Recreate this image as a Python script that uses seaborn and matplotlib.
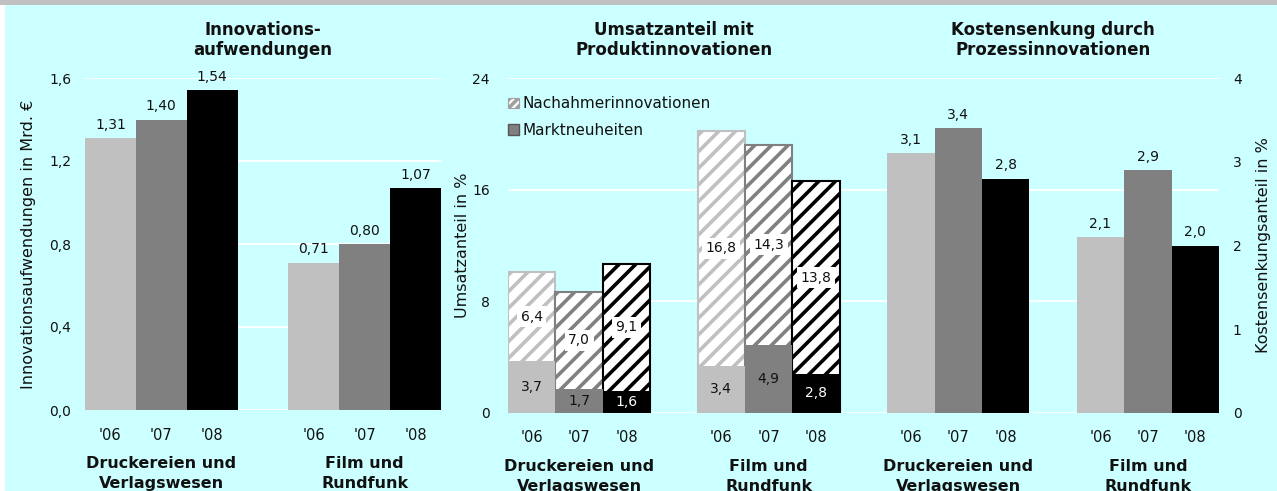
import matplotlib
matplotlib.use("Agg")
import matplotlib.pyplot as plt
import seaborn as sns
import pandas as pd
from matplotlib.patches import Rectangle, Patch
from matplotlib.transforms import blended_transform_factory

# ---------------- data ----------------
years = ["'06", "'07", "'08"]
sectors = ["Druckereien und\nVerlagswesen", "Film und\nRundfunk"]

innov_druck = [1.31, 1.40, 1.54]
innov_film = [0.71, 0.80, 1.07]

markt_druck = [3.7, 1.7, 1.6]
markt_film = [3.4, 4.9, 2.8]
nach_druck = [6.4, 7.0, 9.1]
nach_film = [16.8, 14.3, 13.8]

kosten_druck = [3.1, 3.4, 2.8]
kosten_film = [2.1, 2.9, 2.0]

titles = ["Innovations-\naufwendungen",
          "Umsatzanteil mit\nProduktinnovationen",
          "Kostensenkung durch\nProzessinnovationen"]
ylabels = ["Innovationsaufwendungen in Mrd. €",
           "Umsatzanteil in %",
           "Kostensenkungsanteil in %"]
legend_labels = ["Nachahmerinnovationen", "Marktneuheiten"]

ticks1 = [0.0, 0.4, 0.8, 1.2, 1.6]
ticks2 = [0, 8, 16, 24]
ticks3 = [0, 1, 2, 3, 4]

colors = {"'06": "#C0C0C0", "'07": "#808080", "'08": "#000000"}
BG = "#CCFFFF"
TXT = "#111111"

# ---------------- helpers ----------------
def slot_names(prefix):
    names = []
    for s in range(len(sectors)):
        names.append([f"{prefix}{s}{y}" for y in years])
    return names


def make_df(prefix, series):
    rows = []
    for s, vals in enumerate(series):
        for y, v in zip(years, vals):
            rows.append({"slot": f"{prefix}{s}{y}", "year": y, "value": v, "sector": s})
    return pd.DataFrame(rows)


def fmt(v, nd):
    return f"{v:.{nd}f}".replace(".", ",")


sA = slot_names("A")
order1 = sA[0] + ["A_gap"] + sA[1]
sU = slot_names("U")
sK = slot_names("K")
order2 = sU[0] + ["U_gap"] + sU[1] + ["M_gap"] + sK[0] + ["K_gap"] + sK[1]

df1 = make_df("A", [innov_druck, innov_film])
df_markt = make_df("U", [markt_druck, markt_film])
df_nach = make_df("U", [nach_druck, nach_film])
df_total = df_markt.copy()
df_total["value"] = df_markt["value"].values + df_nach["value"].values
df_k = make_df("K", [kosten_druck, kosten_film])

# ---------------- style ----------------
sns.set_theme(style="white")
plt.rcParams["font.family"] = ["DejaVu Sans"]
plt.rcParams["hatch.linewidth"] = 2.6
plt.rcParams["text.color"] = TXT

fig = plt.figure(figsize=(12.77, 4.91), dpi=100)
fig.patch.set_facecolor("white")
fig.patches.append(Rectangle((5 / 1277, 0), 1 - 5 / 1277, 1 - 5 / 491,
                             transform=fig.transFigure, facecolor=BG,
                             edgecolor="none", zorder=-10))
fig.patches.append(Rectangle((0, 1 - 5 / 491), 1, 5 / 491,
                             transform=fig.transFigure, facecolor="#C0C0C0",
                             edgecolor="none", zorder=-9))

W, H = 1277, 491
ax1 = fig.add_axes([85 / W, 1 - 410 / H, (441 - 85) / W, (410 - 78) / H])
ax2 = fig.add_axes([508 / W, 1 - 413 / H, (1219 - 508) / W, (413 - 78) / H])

bar_kw = dict(x="slot", y="value", hue="year", hue_order=years, palette=colors,
              dodge=False, width=1.0, errorbar=None, legend=False, saturation=1)

# ---- panel 1 ----
sns.barplot(data=df1, order=order1, ax=ax1, linewidth=0, **bar_kw)
ax1.set_ylim(0, 1.6)
ax1.set_yticks(ticks1)
ax1.set_yticklabels([fmt(t, 1) for t in ticks1])
for _, r in df1.iterrows():
    ax1.annotate(fmt(r["value"], 2), (order1.index(r["slot"]), r["value"]),
                 xytext=(0, 4.5), textcoords="offset points",
                 ha="center", va="bottom", fontsize=10, color=TXT)

# ---- panel 2 (stacked, hatched) ----
n0 = len(ax2.patches)
sns.barplot(data=df_total, order=order2, ax=ax2, linewidth=1.5, hatch="//", **bar_kw)
for p in ax2.patches[n0:]:
    c = p.get_facecolor()
    p.set_edgecolor(c)
    p.set_facecolor("white")
sns.barplot(data=df_markt, order=order2, ax=ax2, linewidth=0, **bar_kw)
ax2.set_ylim(0, 24)
ax2.set_yticks(ticks2)
ax2.set_yticklabels([str(t) for t in ticks2])

for (_, rm), (_, rn) in zip(df_markt.iterrows(), df_nach.iterrows()):
    x = order2.index(rm["slot"])
    m, n = rm["value"], rn["value"]
    ax2.text(x, m / 2, fmt(m, 1), ha="center", va="center", fontsize=10,
             color="white" if rm["year"] == "'08" else TXT, zorder=5)
    ax2.text(x, m + n / 2, fmt(n, 1), ha="center", va="center", fontsize=10,
             color=TXT, zorder=5,
             bbox=dict(boxstyle="square,pad=0.25", facecolor="white", edgecolor="none"))

# ---- panel 3 on twin axis ----
ax3 = ax2.twinx()
sns.barplot(data=df_k, order=order2, ax=ax3, linewidth=0, **bar_kw)
ax3.set_ylim(0, 4)
ax3.set_yticks(ticks3)
ax3.set_yticklabels([str(t) for t in ticks3])
for _, r in df_k.iterrows():
    ax3.annotate(fmt(r["value"], 1), (order2.index(r["slot"]), r["value"]),
                 xytext=(0, 4.5), textcoords="offset points",
                 ha="center", va="bottom", fontsize=10, color=TXT)

# ---------------- axes cosmetics ----------------
for ax in (ax1, ax2, ax3):
    for sp in ax.spines.values():
        sp.set_visible(False)
    ax.tick_params(length=0, labelsize=10, colors=TXT)
    ax.set_xlabel("")

for ax in (ax1, ax2):
    ax.set_facecolor(BG)
    ax.set_axisbelow(True)
    ax.yaxis.grid(True, color="white", linewidth=1.3)
    ax.xaxis.grid(False)
ax3.patch.set_visible(False)
ax3.grid(False)

ax1.set_xlim(-0.5, len(order1) - 0.5)
ax2.set_xlim(-0.5, len(order2) - 0.5)

xt1 = [order1.index(s) for grp in sA for s in grp]
ax1.set_xticks(xt1)
ax1.set_xticklabels(years * len(sectors))
xt2 = [order2.index(s) for grp in (sU + sK) for s in grp]
ax2.set_xticks(xt2)
ax2.set_xticklabels(years * (2 * len(sectors)))
ax1.tick_params(axis="x", pad=13, labelsize=10.5)
ax2.tick_params(axis="x", pad=12, labelsize=10.5)
ax1.tick_params(axis="y", pad=10)
ax2.tick_params(axis="y", pad=13)
ax3.tick_params(axis="y", pad=10)

ax1.set_ylabel(ylabels[0], fontsize=11.5, color=TXT)
ax1.yaxis.set_label_coords(-49 / 356, 0.5)
ax2.set_ylabel(ylabels[1], fontsize=11.5, color=TXT)
ax2.yaxis.set_label_coords(-38 / 711, 0.5)
ax3.set_ylabel(ylabels[2], fontsize=11.5, color=TXT)
ax3.yaxis.set_label_coords(1 + 37 / 711, 0.5)


# group labels and titles
def group_label(ax, grp_slots, order, text):
    xc = sum(order.index(s) for s in grp_slots) / len(grp_slots)
    tr = blended_transform_factory(ax.transData, ax.transAxes)
    ax.annotate(text, (xc, 0), xycoords=tr, xytext=(0, -33), textcoords="offset points",
                ha="center", va="top", fontsize=11.5, fontweight="bold",
                linespacing=1.4, color=TXT, annotation_clip=False)


def title_label(ax, slots, order, text):
    xc = (order.index(slots[0]) + order.index(slots[-1])) / 2
    tr = blended_transform_factory(ax.transData, ax.transAxes)
    ax.annotate(text, (xc, 1), xycoords=tr, xytext=(0, 13.5), textcoords="offset points",
                ha="center", va="bottom", fontsize=12, fontweight="bold",
                linespacing=1.15, color=TXT, annotation_clip=False)


for grp, name in zip(sA, sectors):
    group_label(ax1, grp, order1, name)
for grp, name in zip(sU, sectors):
    group_label(ax2, grp, order2, name)
for grp, name in zip(sK, sectors):
    group_label(ax2, grp, order2, name)

title_label(ax1, sA[0] + sA[1], order1, titles[0])
title_label(ax2, sU[0] + sU[1], order2, titles[1])
title_label(ax2, sK[0] + sK[1], order2, titles[2])

# legend
handles = [Patch(facecolor="white", edgecolor="#A0A0A0", hatch="////", linewidth=0.8),
           Patch(facecolor="#808080", edgecolor="#555555", linewidth=1.0)]
ax3.legend(handles, legend_labels, loc="upper left", bbox_to_anchor=(0.0, 0.945),
           frameon=False, fontsize=11, handlelength=0.7, handleheight=0.7,
           handletextpad=0.25, labelspacing=0.75, borderpad=0, borderaxespad=0)

fig.savefig("out.png", dpi=100, facecolor="white")
